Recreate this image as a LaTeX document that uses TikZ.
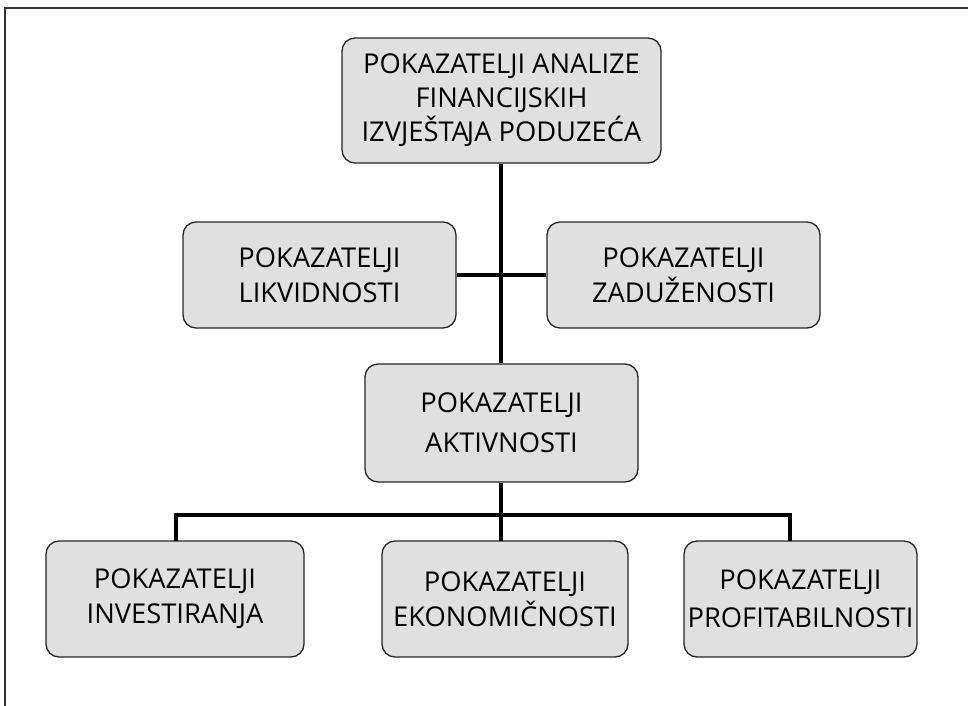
\documentclass[tikz,border=0pt]{standalone}
\usepackage{fontspec}
\setmainfont{Open Sans}
\begin{document}
\begin{tikzpicture}[x=1pt,y=-1pt,
  boxstyle/.style={draw=black!85, fill=boxgray, rounded corners=13pt, line width=1.3pt,
    align=center, inner sep=0pt, font=\fontsize{27.3}{35}\selectfont},
  conn/.style={line width=4pt},
  frameline/.style={line width=1.5pt, draw=black!80}]
\definecolor{boxgray}{HTML}{E0E0E0}
\useasboundingbox (0,0) rectangle (968,705);
\draw[frameline] (5,710) -- (5,8) -- (975,8);

\node[boxstyle, minimum width=319pt, minimum height=125pt, font=\fontsize{27.3}{34}\selectfont] (top) at (501.5,100.5)
  {POKAZATELJI ANALIZE\\FINANCIJSKIH\\IZVJEŠTA\kern-2pt JA PODUZEĆA};
\node[boxstyle, minimum width=273pt, minimum height=106pt] (lik) at (319.5,275)
  {POKAZATELJI\\LIKVIDNOSTI};
\node[boxstyle, minimum width=273pt, minimum height=106pt] (zad) at (683.5,275)
  {POKAZATELJI\\ZADUŽENOSTI};
\node[boxstyle, minimum width=273pt, minimum height=118pt, font=\fontsize{27.3}{40}\selectfont] (akt) at (501.5,423)
  {POKAZATELJI\\AKTIVNOSTI};
\node[boxstyle, minimum width=258pt, minimum height=116pt] (inv) at (175,599)
  {POKAZATELJI\\INVESTIRANJA};
\node[boxstyle, minimum width=246pt, minimum height=116pt] (eko) at (505,599)
  {POKAZATELJI\\EKONOMIČNOSTI};
\node[boxstyle, minimum width=233pt, minimum height=116pt, font=\fontsize{27.3}{38}\selectfont] (prof) at (800.5,599)
  {POKAZATELJI\\PROFITABILNOSTI};

\coordinate (busL) at (176,515);
\coordinate (busM) at (501,515);
\coordinate (busR) at (790,515);
\coordinate (invtop) at (176,541);
\coordinate (ekotop) at (501,541);
\coordinate (proftop) at (790,541);

\draw[conn] (top.south -| busM) -- (akt.north -| busM);
\draw[conn] (lik.east) -- (zad.west);
\draw[conn] (akt.south -| busM) -- (ekotop);
\draw[conn] (invtop) -- (busL) -- (busR) -- (proftop);
\end{tikzpicture}
\end{document}
